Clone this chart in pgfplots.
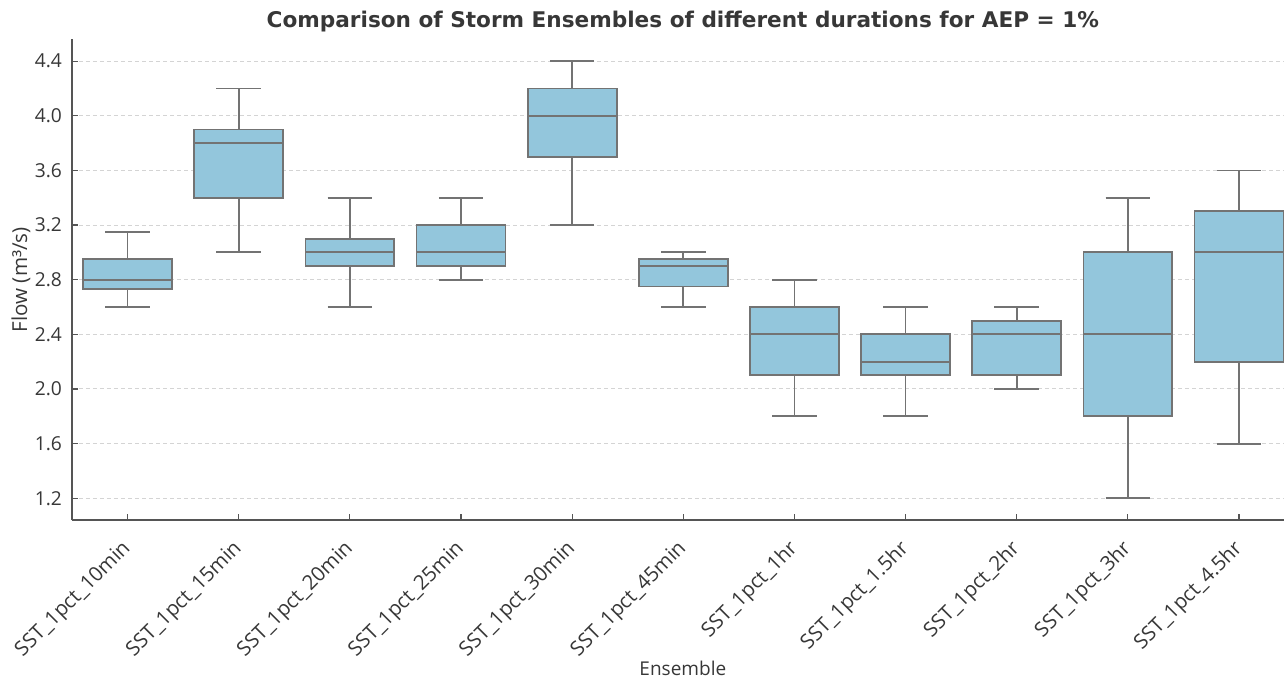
\documentclass[border=0pt]{standalone}
\usepackage{pgfplots}
\pgfplotsset{compat=1.18}
\usepgfplotslibrary{statistics}
\usepackage{fontspec}
\setmainfont{Open Sans}
\newfontfamily\titlefont{DejaVu Sans}
\definecolor{boxfill}{RGB}{147,198,220}
\definecolor{boxedge}{RGB}{115,115,115}
\definecolor{gridc}{RGB}{212,212,212}
\definecolor{axc}{RGB}{85,85,85}
\definecolor{txt}{RGB}{55,55,55}
\pgfplotsset{
  sbox/.style={boxplot prepared={#1, box extend=0.8, whisker extend=0.4,
      every median/.style={draw=boxedge, line width=0.9pt}},
    boxplot/draw direction=y,
    draw=boxedge, fill=boxfill, line width=0.9pt, solid},
}
\begin{document}
\begin{tikzpicture}
\begin{axis}[
  name=ax,
  scale only axis, width=606pt, height=240.4pt,
  xmin=-0.5, xmax=10.405, ymin=1.04, ymax=4.56,
  axis lines=left, axis line style={-, axc, line width=0.8pt},
  tick align=inside, major tick length=3pt,
  tick style={axc, line width=0.6pt},
  xtick={0,1,2,3,4,5,6,7,8,9,10},
  xticklabels={SST\_1pct\_10min,SST\_1pct\_15min,SST\_1pct\_20min,SST\_1pct\_25min,SST\_1pct\_30min,SST\_1pct\_45min,SST\_1pct\_1hr,SST\_1pct\_1.5hr,SST\_1pct\_2hr,SST\_1pct\_3hr,SST\_1pct\_4.5hr},
  xticklabel style={rotate=45, anchor=north east, font=\fontsize{10.2}{11}\selectfont, text=txt, xshift=-5.5pt, yshift=-0.5pt},
  ytick={1.2,1.6,2.0,2.4,2.8,3.2,3.6,4.0,4.4},
  yticklabel style={font=\fontsize{9.6}{10}\selectfont, text=txt, xshift=-1.5pt},
  /pgf/number format/assume math mode=true,
  yticklabel={\pgfmathprintnumber[fixed, fixed zerofill, precision=1]{\tick}},
  ymajorgrids, grid style={gridc, line width=0.5pt, dash pattern=on 2pt off 1.5pt},
  every axis y label/.style={at={(axis description cs:-0.0421,0.5)}, rotate=90, anchor=center, font=\fontsize{10.3}{11}\selectfont, text=txt},
  every axis x label/.style={at={(axis description cs:0.504,-0.308)}, anchor=center, font=\fontsize{9.5}{10}\selectfont, text=txt},
  ylabel={Flow (m³/s)},
  xlabel={Ensemble},
  clip=false,
]
\addplot[sbox={draw position=0, lower whisker=2.6, lower quartile=2.73, median=2.8, upper quartile=2.95, upper whisker=3.15}] coordinates {};
\addplot[sbox={draw position=1, lower whisker=3.0, lower quartile=3.4, median=3.8, upper quartile=3.9, upper whisker=4.2}] coordinates {};
\addplot[sbox={draw position=2, lower whisker=2.6, lower quartile=2.9, median=3.0, upper quartile=3.1, upper whisker=3.4}] coordinates {};
\addplot[sbox={draw position=3, lower whisker=2.8, lower quartile=2.9, median=3.0, upper quartile=3.2, upper whisker=3.4}] coordinates {};
\addplot[sbox={draw position=4, lower whisker=3.2, lower quartile=3.7, median=4.0, upper quartile=4.2, upper whisker=4.4}] coordinates {};
\addplot[sbox={draw position=5, lower whisker=2.6, lower quartile=2.75, median=2.9, upper quartile=2.95, upper whisker=3.0}] coordinates {};
\addplot[sbox={draw position=6, lower whisker=1.8, lower quartile=2.1, median=2.4, upper quartile=2.6, upper whisker=2.8}] coordinates {};
\addplot[sbox={draw position=7, lower whisker=1.8, lower quartile=2.1, median=2.2, upper quartile=2.4, upper whisker=2.6}] coordinates {};
\addplot[sbox={draw position=8, lower whisker=2.0, lower quartile=2.1, median=2.4, upper quartile=2.5, upper whisker=2.6}] coordinates {};
\addplot[sbox={draw position=9, lower whisker=1.2, lower quartile=1.8, median=2.4, upper quartile=3.0, upper whisker=3.4}] coordinates {};
\addplot[sbox={draw position=10, lower whisker=1.6, lower quartile=2.2, median=3.0, upper quartile=3.3, upper whisker=3.6}] coordinates {};
\node[anchor=base, font=\titlefont\bfseries\fontsize{10.8}{12}\selectfont, text=txt, yshift=5.65pt] at (axis description cs:0.504,1) {Comparison of Storm Ensembles of different durations for AEP = 1\%};
\end{axis}
\pgfresetboundingbox
\useasboundingbox (ax.south west) ++(-36pt,-79pt) rectangle ++(642pt,339.05pt);
\end{tikzpicture}
\end{document}
